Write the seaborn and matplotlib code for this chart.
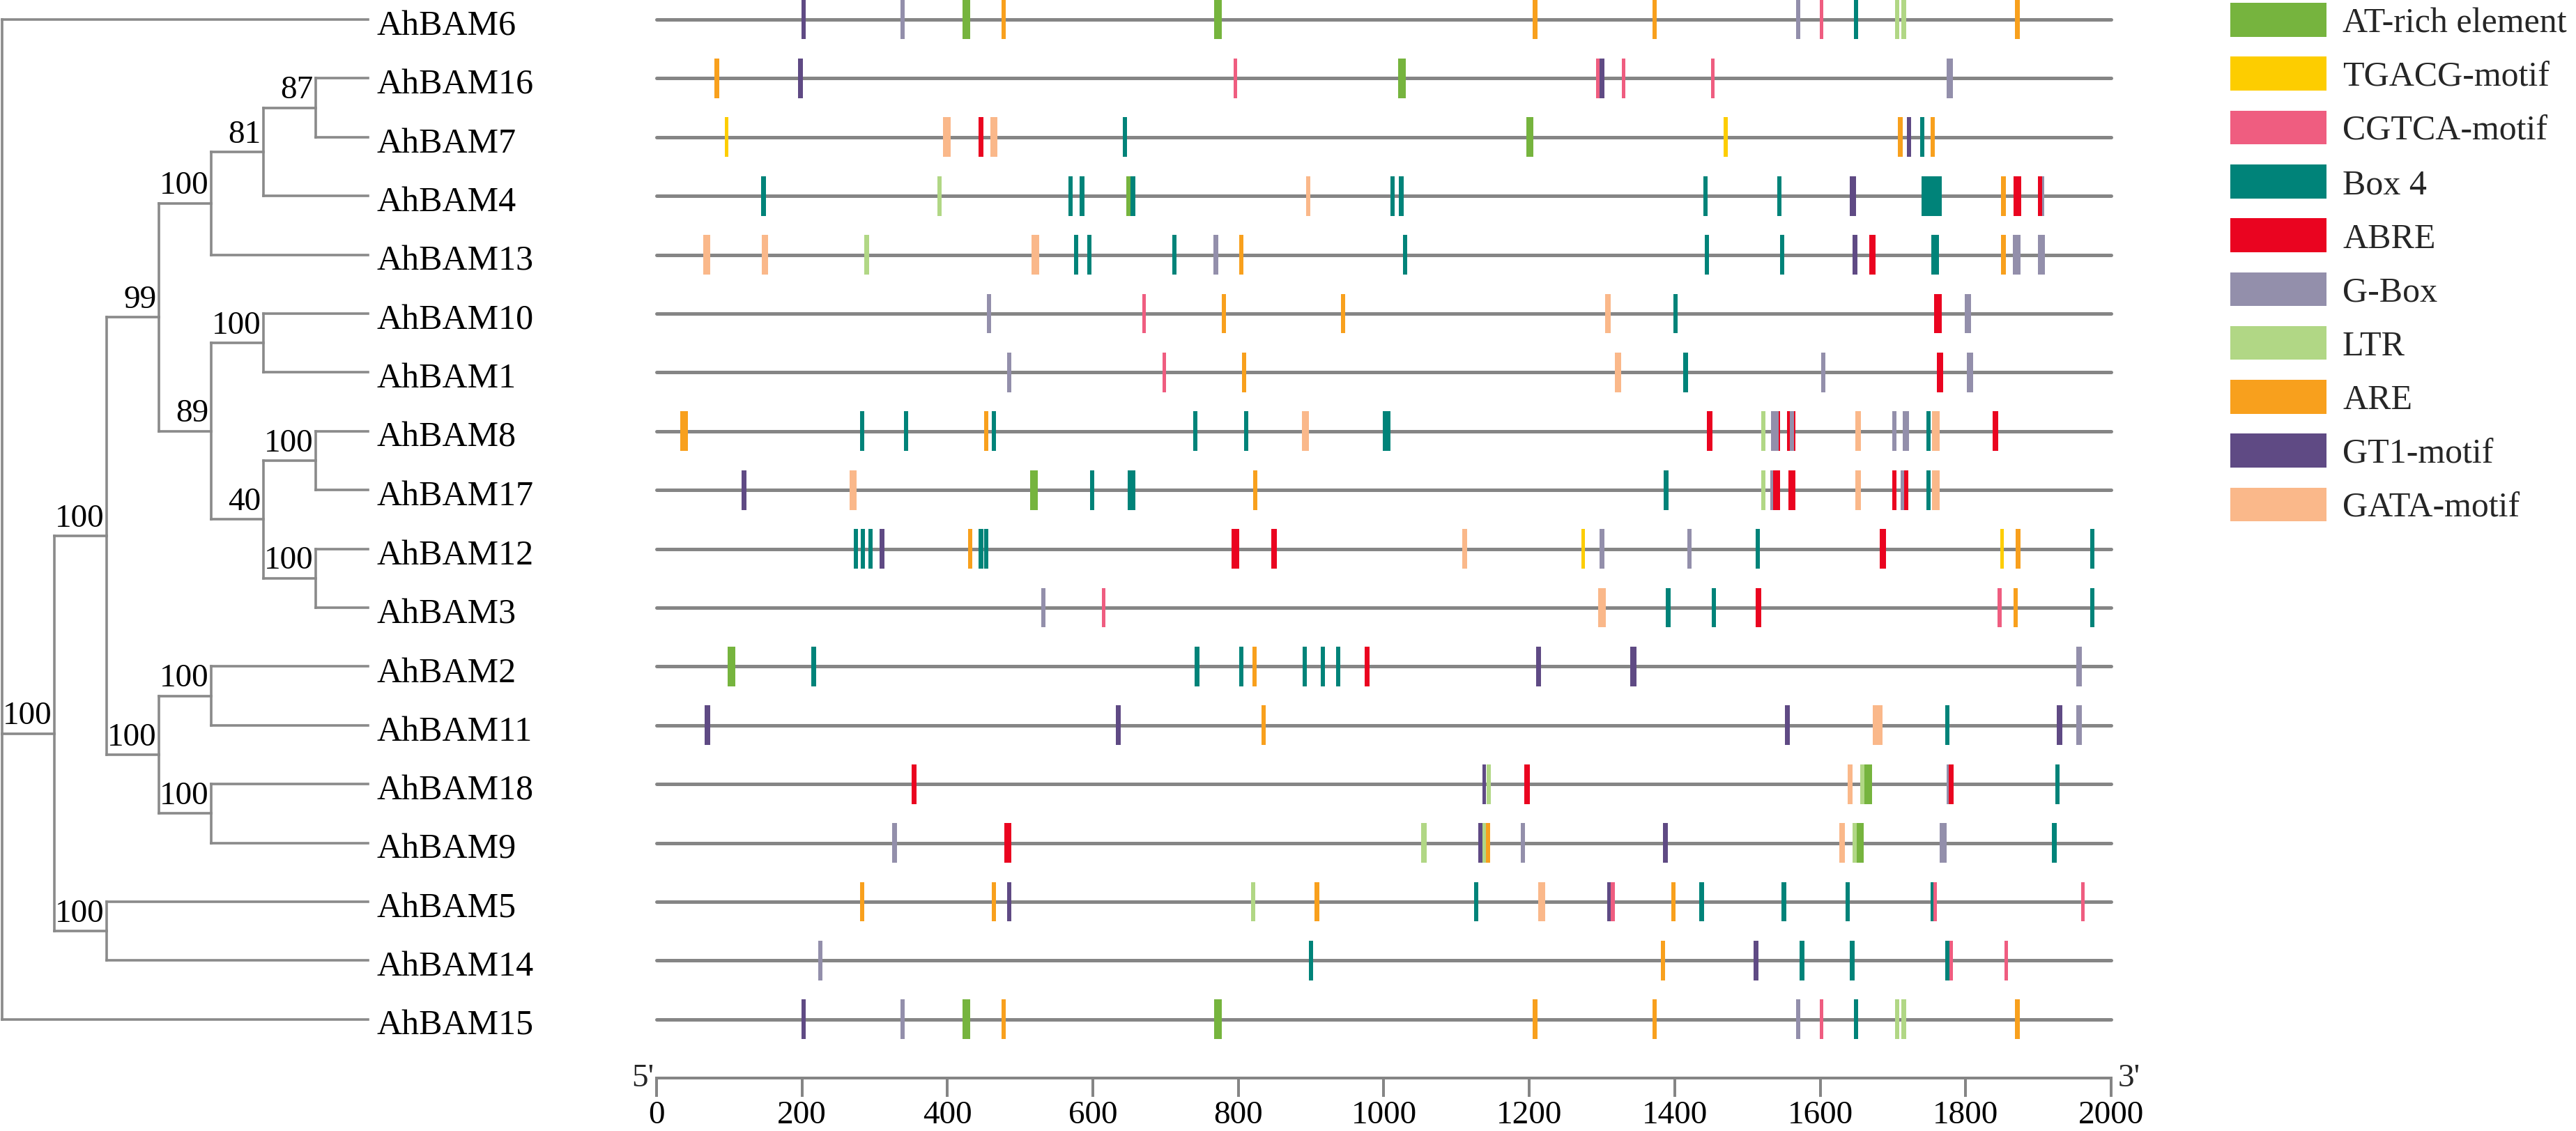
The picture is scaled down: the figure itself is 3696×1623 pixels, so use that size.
import re
import numpy as np
import pandas as pd
import matplotlib
matplotlib.use("Agg")
import matplotlib.pyplot as plt
import matplotlib.patches as mpatches
from matplotlib import font_manager as fm
import seaborn as sns

# ---------------- data ----------------
motif_codes = ["AT", "TG", "CG", "B4", "AB", "GB", "LT", "AR", "GT", "GA"]
motif_names = ["AT-rich element", "TGACG-motif", "CGTCA-motif", "Box 4", "ABRE",
               "G-Box", "LTR", "ARE", "GT1-motif", "GATA-motif"]
motif_colors = ["#76B43E", "#FDCD00", "#EF5D80", "#008379", "#EA0420",
                "#938FAB", "#B1D785", "#F8A01D", "#5F4A84", "#FAB88A"]

genes = ["AhBAM6", "AhBAM16", "AhBAM7", "AhBAM4", "AhBAM13", "AhBAM10", "AhBAM1",
         "AhBAM8", "AhBAM17", "AhBAM12", "AhBAM3", "AhBAM2", "AhBAM11", "AhBAM18",
         "AhBAM9", "AhBAM5", "AhBAM14", "AhBAM15"]

newick = ("(AhBAM6,((((((AhBAM16,AhBAM7)87,AhBAM4)81,AhBAM13)100,"
          "((AhBAM10,AhBAM1)100,((AhBAM8,AhBAM17)100,(AhBAM12,AhBAM3)100)40)89)99,"
          "((AhBAM2,AhBAM11)100,(AhBAM18,AhBAM9)100)100)100,(AhBAM5,AhBAM14)100)100,AhBAM15);")

# (motif, centre position in bp, motif length in bp) - listed in drawing order
AhBAM6 = [("GT", 202, 6), ("GB", 338, 6), ("AT", 426, 10), ("AR", 477, 6), ("AT", 772, 10),
          ("AR", 1208, 6), ("AR", 1372, 6), ("GB", 1570, 6), ("CG", 1602, 5), ("B4", 1649, 6),
          ("LT", 1706, 6), ("LT", 1715, 6), ("AR", 1871, 6)]
AhBAM16 = [("AR", 83, 6), ("GT", 198, 7), ("CG", 796, 5), ("AT", 1025, 10), ("CG", 1294, 5),
           ("GT", 1300, 6), ("CG", 1330, 5), ("CG", 1452, 5), ("GB", 1778, 8)]
AhBAM7 = [("TG", 96, 5), ("GA", 399, 10), ("AB", 446, 6), ("GA", 464, 10), ("B4", 644, 6),
          ("AT", 1201, 10), ("TG", 1470, 5), ("AR", 1710, 6), ("GT", 1722, 6), ("B4", 1740, 6),
          ("AR", 1755, 6)]
AhBAM4 = [("B4", 147, 6), ("LT", 389, 6), ("B4", 569, 6), ("B4", 585, 6), ("AT", 649, 6),
          ("B4", 655, 6), ("GA", 896, 6), ("B4", 1012, 6), ("B4", 1024, 6), ("B4", 1442, 6),
          ("B4", 1544, 6), ("GT", 1645, 8), ("B4", 1753, 28), ("AR", 1852, 6), ("AB", 1871, 11),
          ("GB", 1905, 6), ("AB", 1902, 6)]
AhBAM13 = [("GA", 69, 10), ("GA", 149, 9), ("LT", 289, 6), ("GA", 521, 10), ("B4", 577, 6),
           ("B4", 595, 6), ("B4", 712, 6), ("GB", 769, 7), ("AR", 804, 6), ("B4", 1029, 6),
           ("B4", 1444, 6), ("B4", 1548, 6), ("GT", 1648, 7), ("AB", 1672, 9), ("B4", 1758, 10),
           ("AR", 1852, 6), ("GB", 1870, 11), ("GB", 1904, 9)]
AhBAM10 = [("GB", 457, 6), ("CG", 670, 5), ("AR", 780, 6), ("AR", 944, 6), ("GA", 1308, 7),
           ("B4", 1401, 6), ("AB", 1762, 10), ("GB", 1803, 8)]
AhBAM1 = [("GB", 485, 6), ("CG", 698, 5), ("AR", 808, 6), ("GA", 1322, 8), ("B4", 1415, 6),
          ("GB", 1604, 6), ("AB", 1765, 9), ("GB", 1806, 8)]
AhBAM8 = [("AR", 38, 11), ("B4", 283, 6), ("B4", 343, 6), ("AR", 453, 6), ("B4", 464, 6),
          ("B4", 741, 6), ("B4", 811, 6), ("GA", 892, 10), ("B4", 1004, 10), ("AB", 1448, 7),
          ("LT", 1522, 6), ("AB", 1540, 9), ("GB", 1537.5, 11), ("AB", 1560, 11), ("GB", 1561, 6),
          ("GA", 1652, 7), ("GB", 1702, 6), ("GB", 1718, 9), ("B4", 1749, 6), ("GA", 1759, 11),
          ("AB", 1841, 7)]
AhBAM17 = [("GT", 120, 7), ("GA", 270, 10), ("AT", 519, 10), ("B4", 599, 6), ("B4", 653, 10),
           ("AR", 823, 6), ("B4", 1388, 6), ("LT", 1522, 6), ("GB", 1534, 6), ("AB", 1540, 9),
           ("AB", 1561, 9), ("GA", 1652, 7), ("AB", 1702, 6), ("GB", 1714, 6), ("AB", 1718, 6),
           ("B4", 1749, 6), ("GA", 1759, 11)]
AhBAM12 = [("B4", 274, 6), ("B4", 284, 6), ("B4", 294, 6), ("GT", 310, 6), ("AR", 431, 6),
           ("B4", 446, 6), ("B4", 453, 6), ("AB", 796, 10), ("AB", 849, 7), ("GA", 1111, 7),
           ("TG", 1274, 5), ("GB", 1300, 6), ("GB", 1420, 6), ("B4", 1514, 6), ("AB", 1686, 9),
           ("TG", 1850, 5), ("AR", 1872, 6), ("B4", 1974, 6)]
AhBAM3 = [("GB", 532, 6), ("CG", 615, 5), ("GA", 1300, 10), ("B4", 1391, 7), ("B4", 1454, 6),
          ("AB", 1515, 7), ("CG", 1847, 6), ("AR", 1869, 6), ("B4", 1974, 6)]
AhBAM2 = [("AT", 103, 10), ("B4", 216, 7), ("B4", 743, 7), ("B4", 804, 6), ("AR", 822, 6),
          ("B4", 891, 6), ("B4", 916, 6), ("B4", 937, 6), ("AB", 977, 6), ("GT", 1213, 7),
          ("GT", 1343, 8), ("GB", 1956, 7)]
AhBAM11 = [("GT", 70, 7), ("GT", 635, 6), ("AR", 835, 6), ("GT", 1555, 7), ("GA", 1679, 13),
           ("B4", 1775, 6), ("GT", 1929, 7), ("GB", 1956, 7)]
AhBAM18 = [("AB", 354, 6), ("GT", 1138, 5), ("LT", 1144, 6), ("AB", 1197, 7), ("GA", 1641, 7),
           ("LT", 1658, 6), ("AT", 1666, 11), ("GB", 1777, 6), ("AB", 1780, 6), ("B4", 1926, 6)]
AhBAM9 = [("GB", 327, 7), ("AB", 483, 10), ("LT", 1055, 7), ("LT", 1137, 6), ("GT", 1133, 6),
          ("AR", 1143, 6), ("GB", 1191, 6), ("GT", 1387, 7), ("GA", 1630, 7), ("LT", 1647, 6),
          ("AT", 1655, 9), ("GB", 1769, 9), ("B4", 1922, 6)]
AhBAM5 = [("AR", 283, 6), ("AR", 464, 6), ("GT", 485, 6), ("LT", 820, 6), ("AR", 908, 6),
          ("B4", 1127, 6), ("GA", 1217, 10), ("GT", 1310, 5), ("CG", 1315, 6), ("AR", 1398, 6),
          ("B4", 1437, 7), ("B4", 1550, 6), ("B4", 1638, 6), ("B4", 1754, 5), ("CG", 1758, 5),
          ("CG", 1961, 5)]
AhBAM14 = [("GB", 225, 6), ("B4", 900, 6), ("AR", 1384, 6), ("GT", 1512, 7), ("B4", 1575, 6),
           ("B4", 1644, 7), ("B4", 1775, 6), ("CG", 1780, 5), ("CG", 1856, 5)]
AhBAM15 = [("GT", 202, 6), ("GB", 338, 6), ("AT", 426, 10), ("AR", 477, 6), ("AT", 772, 10),
           ("AR", 1208, 6), ("AR", 1372, 6), ("GB", 1570, 6), ("CG", 1602, 5), ("B4", 1649, 6),
           ("LT", 1706, 6), ("LT", 1715, 6), ("AR", 1871, 6)]

gene_motifs = {"AhBAM6": AhBAM6, "AhBAM16": AhBAM16, "AhBAM7": AhBAM7, "AhBAM4": AhBAM4,
               "AhBAM13": AhBAM13, "AhBAM10": AhBAM10, "AhBAM1": AhBAM1, "AhBAM8": AhBAM8,
               "AhBAM17": AhBAM17, "AhBAM12": AhBAM12, "AhBAM3": AhBAM3, "AhBAM2": AhBAM2,
               "AhBAM11": AhBAM11, "AhBAM18": AhBAM18, "AhBAM9": AhBAM9, "AhBAM5": AhBAM5,
               "AhBAM14": AhBAM14, "AhBAM15": AhBAM15}

seq_len = 2000
tick_values = list(range(0, 2001, 200))

# ---------------- style ----------------
sns.set_theme(style="white")
installed = {f.name for f in fm.fontManager.ttflist}
serif_family = next((f for f in ["Liberation Serif", "Times New Roman", "Nimbus Roman",
                                 "DejaVu Serif"] if f in installed), "serif")
plt.rcParams["font.family"] = [serif_family, "DejaVu Serif"]
palette = dict(zip(motif_codes, motif_colors))
names = dict(zip(motif_codes, motif_names))
GREY = "#858585"
TREE_GREY = "#8a8a8a"
FS_LABEL = 18
FS_SMALL = 17

W, H, DPI = 3696, 1624, 200
fig = plt.figure(figsize=(W / DPI, H / DPI), dpi=DPI)
fig.patch.set_facecolor("white")

row_px0, row_step = 29.0, 84.4       # pixel y of first row, row spacing
axis_px = 1548.0                      # pixel y of the scale axis
y_top = -row_px0 / row_step
y_bot = (axis_px - row_px0) / row_step
ax_bottom = (H - axis_px) / H
ax_height = axis_px / H

x0_px, x1_px = 942.0, 3029.0
ax_tree = fig.add_axes([0, ax_bottom, x0_px / W, ax_height])
ax = fig.add_axes([x0_px / W, ax_bottom, (x1_px - x0_px) / W, ax_height])
for a in (ax_tree, ax):
    a.patch.set_visible(False)
    a.set_ylim(y_bot, y_top)

# ---------------- tree ----------------
def parse_newick(s):
    pos = 0
    def node():
        nonlocal pos
        if s[pos] == "(":
            pos += 1
            children = [node()]
            while s[pos] == ",":
                pos += 1
                children.append(node())
            pos += 1  # closing parenthesis
            lab = re.match(r"[^,();]*", s[pos:]).group(0)
            pos += len(lab)
            return {"children": children, "label": lab}
        name = re.match(r"[^,();]+", s[pos:]).group(0)
        pos += len(name)
        return {"name": name}
    return node()

tree = parse_newick(newick)
LEAF_DEPTH = 7.0
tree_step_px, tree_x0_px = 75.0, 3.0

def layout(n, depth):
    if "name" in n:
        n["x"] = LEAF_DEPTH
        n["y"] = genes.index(n["name"])
    else:
        n["x"] = depth
        for c in n["children"]:
            layout(c, depth + 1)
        n["y"] = float(np.mean([c["y"] for c in n["children"]]))

layout(tree, 0)
ax_tree.set_xlim(-tree_x0_px / tree_step_px, (x0_px - tree_x0_px) / tree_step_px)

tree_lw = 1.3
def draw(n):
    if "children" not in n:
        ax_tree.text(n["x"] + 0.17, n["y"] + 0.25, n["name"], fontsize=FS_LABEL,
                     ha="left", va="baseline", color="black")
        return
    ys = [c["y"] for c in n["children"]]
    ax_tree.plot([n["x"], n["x"]], [min(ys), max(ys)], color=TREE_GREY, lw=tree_lw,
                 solid_capstyle="projecting", clip_on=False)
    for c in n["children"]:
        ax_tree.plot([n["x"], c["x"]], [c["y"], c["y"]], color=TREE_GREY, lw=tree_lw,
                     solid_capstyle="projecting", clip_on=False)
        draw(c)
    if n["label"]:
        ax_tree.text(n["x"] - 0.05, n["y"] - 0.17, n["label"], fontsize=FS_SMALL,
                     ha="right", va="baseline", color="black")

draw(tree)
ax_tree.axis("off")

# ---------------- motifs ----------------
records = []
for i, g in enumerate(genes):
    for code, centre, length in gene_motifs[g]:
        records.append({"gene": g, "row": i, "motif": names[code], "code": code,
                        "centre": centre, "length": length})
df = pd.DataFrame(records)

for i, g in enumerate(genes):
    ax.plot([0, seq_len], [i, i], color=GREY, lw=1.8, solid_capstyle="round",
            clip_on=False, zorder=1)

mark_h = 0.675
ax.bar(df["centre"], mark_h, bottom=df["row"] - mark_h / 2, width=df["length"],
       color=[palette[c] for c in df["code"]], linewidth=0, zorder=2, align="center")

ax.set_xlim(0, seq_len)
ax.set_xticks(tick_values)
ax.set_xticklabels([str(t) for t in tick_values])
ax.set_yticks([])
sns.despine(ax=ax, left=True, top=True, right=True)
ax.spines["bottom"].set_color(GREY)
ax.spines["bottom"].set_linewidth(1.44)
ax.tick_params(axis="x", direction="out", length=9.7, width=1.44, color=GREY,
               labelsize=FS_SMALL, pad=1.5, labelcolor="black", bottom=True)
ax.text(-4, y_bot + 0.13, "5'", fontsize=FS_SMALL, ha="right", va="baseline")
ax.text(2009, y_bot + 0.13, "3'", fontsize=FS_SMALL, ha="left", va="baseline")

# ---------------- legend ----------------
handles = [mpatches.Patch(facecolor=c, edgecolor="none", linewidth=0, label=n)
           for n, c in zip(motif_names, motif_colors)]
fig.legend(handles=handles, loc="upper left", bbox_to_anchor=(3200 / W, 1 - 5 / H),
           bbox_transform=fig.transFigure, frameon=False, fontsize=FS_LABEL,
           handlelength=2.76, handleheight=1.12, handletextpad=0.46,
           labelspacing=0.5, borderpad=0, borderaxespad=0)

fig.savefig("out.png", dpi=DPI, facecolor="white")
